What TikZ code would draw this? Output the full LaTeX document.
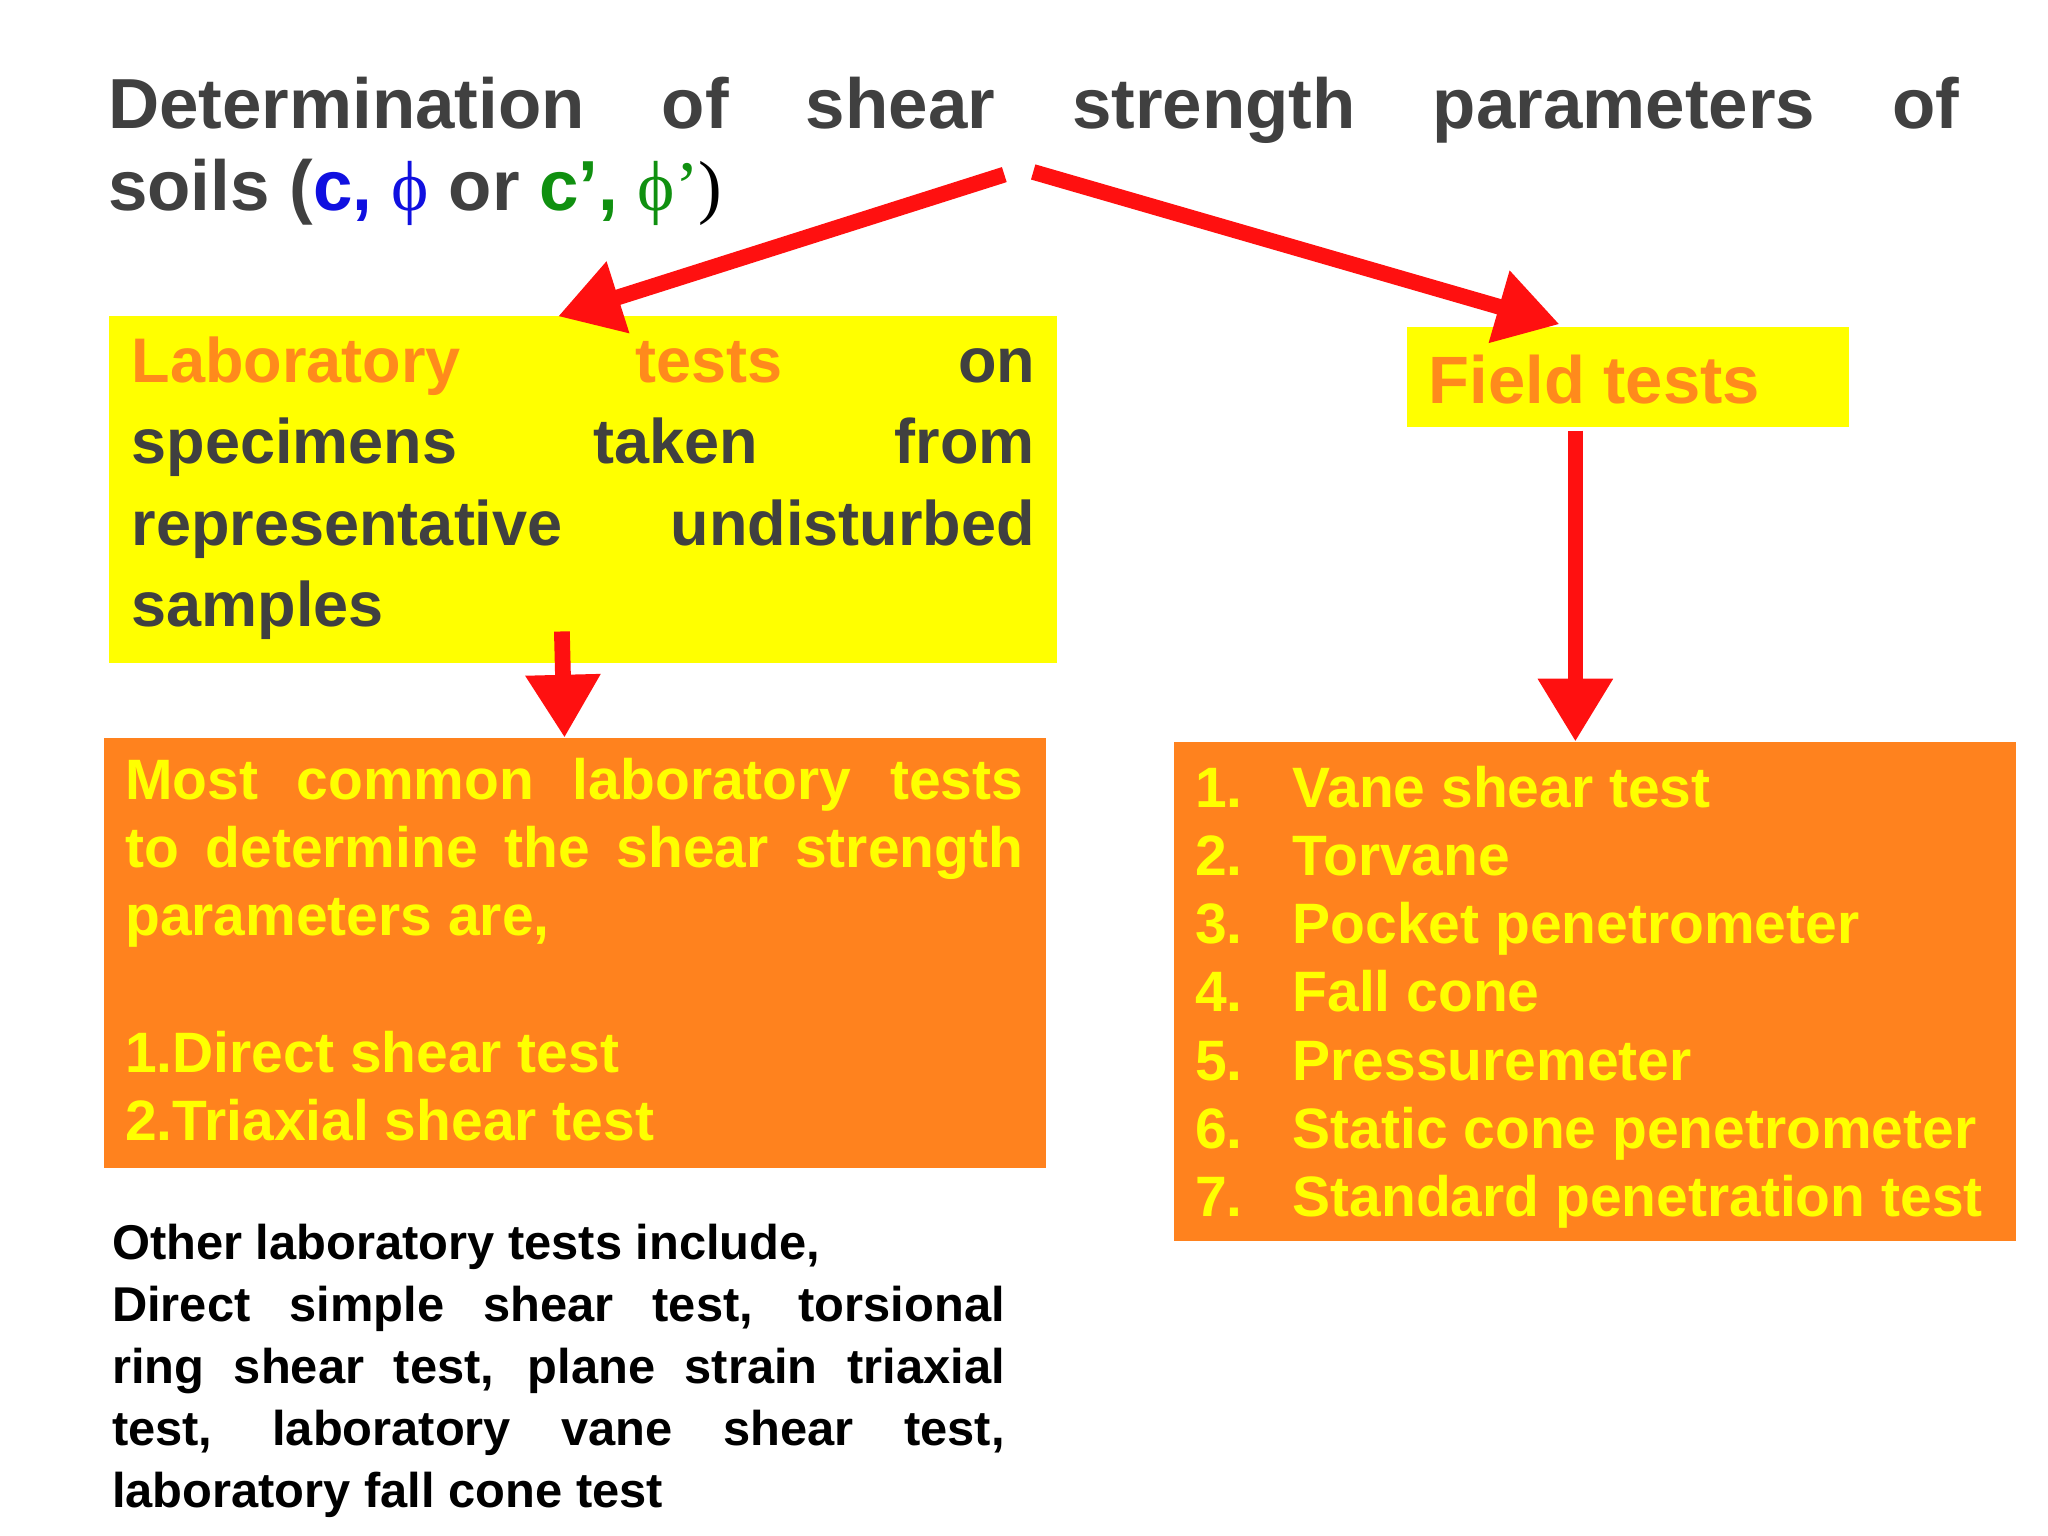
\documentclass[tikz,border=0pt]{standalone}
\usepackage{fontspec}
\setmainfont{Liberation Sans}
\newfontfamily\symser{Liberation Serif}
\usetikzlibrary{arrows.meta}
\definecolor{tgray}{HTML}{404040}
\definecolor{boxyel}{HTML}{FFFF00}
\definecolor{boxorg}{HTML}{FF821E}
\definecolor{txtorg}{HTML}{FF8A1C}
\definecolor{cblue}{HTML}{1010E0}
\definecolor{cgreen}{HTML}{109010}
\definecolor{ared}{HTML}{FF1010}
\tikzset{
  redarrow/.style={draw=ared,line width=6pt,-{Triangle[length=24pt,width=27pt]}},
  yelbox/.style={fill=boxyel,anchor=north west,inner sep=0pt},
  orgbox/.style={fill=boxorg,anchor=north west,inner sep=0pt},
}
\hyphenpenalty=10000
\begin{document}
\begin{tikzpicture}[x=0.5pt,y=-0.5pt,font=\bfseries]
\useasboundingbox (0,0) rectangle (1560,1170);
% title
\node[anchor=north west,inner sep=0pt,text width=705pt,align=justify,text=tgray,font=\bfseries\fontsize{27}{31.5}\selectfont] (title) at (82,58)
{Determination of shear strength parameters of\linebreak soils (\textcolor{cblue}{c,} \textcolor{cblue}{\symser\mdseries ϕ} or \textcolor{cgreen}{c’, {\symser\mdseries ϕ’}}{\symser\mdseries\color{black})}};
\coordinate (s1) at (765,133);
\coordinate (s2) at (787,131);
% lab box
\fill[boxyel] (83,241) rectangle (805,505);
\node[anchor=north west,inner sep=0pt,text width=344pt,align=justify,text=tgray,font=\bfseries\fontsize{24}{31}\selectfont] (lab) at (100,256)
{\textcolor{txtorg}{Laboratory tests} on\linebreak specimens taken from\linebreak representative undisturbed\linebreak samples};
\coordinate (labtop) at (425,241);
\coordinate (labbot) at (428,481);
% field tests box
\node[yelbox,minimum width=168.5pt,minimum height=38pt] (field) at (1071,249) {};
\node[anchor=west,inner sep=0pt,text=txtorg,font=\bfseries\fontsize{25.5}{30}\selectfont] (fieldt) at (1088,289) {Field tests};
\coordinate (fieldtop) at (1188,247);
\coordinate (fieldbot) at (1200,328);
% orange lab box
\node[orgbox,minimum width=358.5pt,minimum height=163.5pt] (olab) at (79,562) {};
\node[anchor=north west,inner sep=0pt,text width=342pt,align=justify,text=boxyel,font=\bfseries\fontsize{21.7}{26}\selectfont] (olabt) at (95,577)
{Most common laboratory tests\linebreak to determine the shear strength\linebreak parameters are,\par
\mbox{}\par
\raggedright 1.Direct shear test\par 2.Triaxial shear test};
% orange field box
\node[orgbox,minimum width=320.5pt,minimum height=190pt] (ofield) at (894,565) {};
\node[anchor=north west,inner sep=0pt,text=boxyel,font=\bfseries\fontsize{21.7}{26}\selectfont,align=left] (ofieldt) at (910,578)
{\begin{tabular}{@{}l@{\hspace{19pt}}l@{}}
1. & Vane shear test\\
2. & Torvane\\
3. & Pocket penetrometer\\
4. & Fall cone\\
5. & Pressuremeter\\
6. & Static cone penetrometer\\
7. & Standard penetration test
\end{tabular}};
% other text
\node[anchor=north west,inner sep=0pt,text width=340pt,align=justify,font=\bfseries\fontsize{18.6}{23.6}\selectfont] (other) at (85,932)
{Other laboratory tests include,\\ Direct simple shear test, torsional\linebreak ring shear test, plane strain triaxial\linebreak test, laboratory vane shear test,\linebreak laboratory fall cone test};
% arrows
\draw[redarrow] (s1) -- (labtop);
\draw[redarrow] (s2) -- (fieldtop);
\draw[redarrow] (labbot) -- (olab.north -| 430,0);
\draw[redarrow] (fieldbot) -- (ofield.north -| 1200,0);
\end{tikzpicture}
\end{document}
